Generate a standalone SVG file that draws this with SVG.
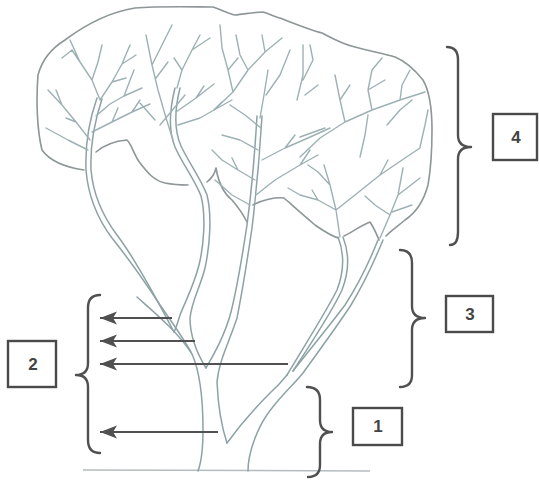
<svg xmlns="http://www.w3.org/2000/svg" width="539" height="481" viewBox="0 0 539 481">
<style>
.canopy{fill:none;stroke:#8e9698;stroke-width:1.6;stroke-linecap:round;stroke-linejoin:round}
.stem{fill:none;stroke:#8ca2a5;stroke-width:1.5;stroke-linecap:round;stroke-linejoin:round}
.twig{fill:none;stroke:#9db1b4;stroke-width:1.4;stroke-linecap:round;stroke-linejoin:round}
.ground{fill:none;stroke:#b4bcbe;stroke-width:1.5}
.brace{fill:none;stroke:#505050;stroke-width:2.4;stroke-linecap:round;stroke-linejoin:round}
.box{fill:#fff;stroke:#4a4a4a;stroke-width:2.4}
.lbl{font-family:"Liberation Sans",Arial,sans-serif;font-weight:bold;font-size:17px;fill:#444;text-anchor:middle}
.arrow{fill:none;stroke:#505050;stroke-width:2}
</style>
<defs>
<marker id="ah" markerUnits="userSpaceOnUse" markerWidth="20" markerHeight="16" viewBox="0 -8 20 16" refX="17" refY="0" orient="auto">
<path d="M0,-6.5 L17,0 L0,6.5 L4,0 Z" fill="#505050"/>
</marker>
</defs>
<rect width="539" height="481" fill="#fff"/>

<g id="tree">
<path class="ground" d="M83,470 L370,471"/>
<path class="canopy" d="M84,170 C70,168 52,164 42,150 C37,130 36,100 38,75 C42,60 52,48 65,40 C85,25 110,12 135,8 C160,6 195,7 213,7 C222,10 228,14 235,15 C245,14 255,12 263,12 C270,14 275,17 280,18 C295,24 310,30 322,33 C335,40 345,45 355,47 C370,51 385,54 395,57 C405,61 415,70 423,80 C430,92 432,110 432,130 C432,150 431,168 428,185 C424,200 417,212 405,220 C398,226 392,230 386,236"/>
<path class="canopy" d="M96,152 C103,146 115,141 127,140 C132,145 134,155 140,163 C147,172 153,180 165,183 C175,185 182,185 188,185"/>
<path class="canopy" d="M207,182 C212,178 215,173 216,168 C218,180 222,192 232,200 C238,207 243,214 247,222"/>
<path class="canopy" d="M253,205 C262,200 275,197 284,198 C292,205 303,215 315,225 C325,232 332,236 338,238"/>
<path class="canopy" d="M344,236 C352,232 362,225 370,222 C374,228 377,235 379,240"/>

<path class="stem" d="M97,98 C90,118 85,145 86,170 C88,195 97,218 112,238 C128,258 145,282 160,305 C172,322 183,338 191,352"/>
<path class="stem" d="M102,99 C95,120 90,145 91,170 C93,193 102,215 117,235 C133,256 152,290 174,332"/>
<path class="stem" d="M137,297 C155,313 178,332 192,354 C200,372 203,400 203,430 C203,452 201,463 198,471"/>
<path class="stem" d="M175,88 C170,108 168,130 175,147 C183,165 195,180 201,196 C206,215 204,245 199,265 C194,285 186,300 180,315 C178,322 176,328 174,332"/>
<path class="stem" d="M180,88 C175,108 174,130 181,146 C189,163 201,179 207,195 C212,215 210,245 205,268 C200,288 192,300 190,318 C190,338 198,355 206,368"/>
<path class="stem" d="M257,116 C255,150 251,195 247,225 C242,258 236,292 231,312 C225,335 214,354 206,368"/>
<path class="stem" d="M262,116 C260,150 256,195 252,228 C247,262 241,298 237,318 C230,340 219,360 217,382 C218,405 222,428 227,443"/>
<path class="stem" d="M227,443 C240,425 258,405 270,393 C278,386 283,380 287,375"/>
<path class="stem" d="M287,375 C303,348 326,312 337,290 C344,272 345,255 338,237"/>
<path class="stem" d="M293,371 C310,345 332,312 342,290 C349,272 350,255 343,237"/>
<path class="stem" d="M293,371 C308,352 330,325 345,305 C358,285 370,260 378,240"/>
<path class="stem" d="M248,471 C248,452 258,425 272,408 C283,394 294,384 303,373 C318,352 338,325 351,305 C363,285 374,262 383,240"/>

<path class="twig" d="M100,100 L92,80 L80,62 L72,50 M80,62 L70,40 M92,80 L98,62 L102,45 M100,100 L112,82 L122,64 L130,45 M122,64 L136,55 M112,82 L126,78 M90,140 L76,122 L62,105 L48,90 M62,105 L56,90 M76,122 L66,118 M88,150 L68,140 L46,128 M92,132 L112,122 L132,112 L150,104 M112,122 L118,108 M132,112 L140,100 M96,116 L110,104 L124,96 L134,70 M124,96 L142,88 M72,50 L62,58"/>
<path class="twig" d="M173,140 L166,118 L158,90 L152,65 L146,35 M152,65 L162,45 L172,25 M156,78 L168,62 M177,88 L182,70 L192,50 L200,35 M192,50 L210,38 M182,70 L174,58 M176,112 L196,98 L214,84 M196,98 L204,86 M178,125 L200,118 L214,110 L232,100 M214,110 L222,102 M155,120 L140,103 M160,125 L185,95"/>
<path class="twig" d="M260,118 L264,95 L268,70 M266,95 L280,75 L290,50 M261,128 L245,115 L230,105 M258,150 L240,140 L222,135 M255,180 L238,170 L222,160 L212,150 M238,170 L232,158 M256,195 L275,180 L300,165 L318,155 M262,160 L285,148 L308,138 L330,128 M285,148 L295,135 M300,165 L310,150 M250,205 L232,195 L215,180 M233,92 L248,70 L265,52 L282,38 M248,70 L240,55 L236,35 M265,52 L262,35 M233,92 L228,70 L222,48 L220,25 M228,70 L238,58 M214,110 L233,92"/>
<path class="twig" d="M340,237 L336,210 L330,185 L324,165 M330,185 L318,172 L308,165 M336,210 L318,200 L300,195 L288,188 M318,200 L312,190 M336,210 L355,195 L380,175 L405,158 L420,148 M380,175 L388,160 M380,238 L390,215 L398,195 L403,168 M398,195 L420,178 M390,215 L375,205 L365,196 M392,212 L412,205"/>
<path class="twig" d="M300,157 L320,138 L345,122 L372,110 L400,100 L425,92 M345,122 L340,100 L335,75 M340,100 L350,85 M372,110 L368,90 L372,70 L382,58 M368,90 L385,80 M400,100 L402,85 L410,70 M360,157 L365,135 L368,115 M387,125 L400,110 L412,100 M420,147 L425,125 L428,110 M303,80 L313,60 L310,45 M305,95 L318,85 M297,100 L303,75 L303,45 M300,137 L325,128"/>
</g>

<g id="node-4">
<path class="brace" d="M447,47 Q458,47 458,60 L458,135 Q458,147 471,147 Q458,147 458,159 L458,232 Q458,245 450,245"/>
<rect class="box" x="493" y="114" width="44" height="46"/>
<text class="lbl" x="516" y="143">4</text>
</g>
<g id="node-3">
<path class="brace" d="M400,250 Q412,250 412,263 L412,306 Q412,318 425,318 Q412,318 412,330 L412,375 Q412,387 400,387"/>
<rect class="box" x="446" y="296" width="47" height="36"/>
<text class="lbl" x="470" y="320">3</text>
</g>
<g id="node-1">
<path class="brace" d="M307,387 Q320,387 320,400 L320,420 Q320,432 332,432 Q320,432 320,444 L320,465 Q320,477 308,477"/>
<rect class="box" x="353" y="408" width="49" height="37"/>
<text class="lbl" x="378" y="432">1</text>
</g>
<g id="node-2">
<path class="brace" d="M100,295 Q88,295 88,308 L88,363 Q88,375 76,375 Q88,375 88,387 L88,440 Q88,453 100,453"/>
<rect class="box" x="8" y="341" width="48" height="46"/>
<text class="lbl" x="33" y="370">2</text>
</g>

<g id="connectors">
<line class="arrow" x1="172" y1="318" x2="100" y2="318" marker-end="url(#ah)"/>
<line class="arrow" x1="195" y1="341" x2="100" y2="341" marker-end="url(#ah)"/>
<line class="arrow" x1="288" y1="364" x2="100" y2="364" marker-end="url(#ah)"/>
<line class="arrow" x1="218" y1="432" x2="100" y2="432" marker-end="url(#ah)"/>
</g>
</svg>
